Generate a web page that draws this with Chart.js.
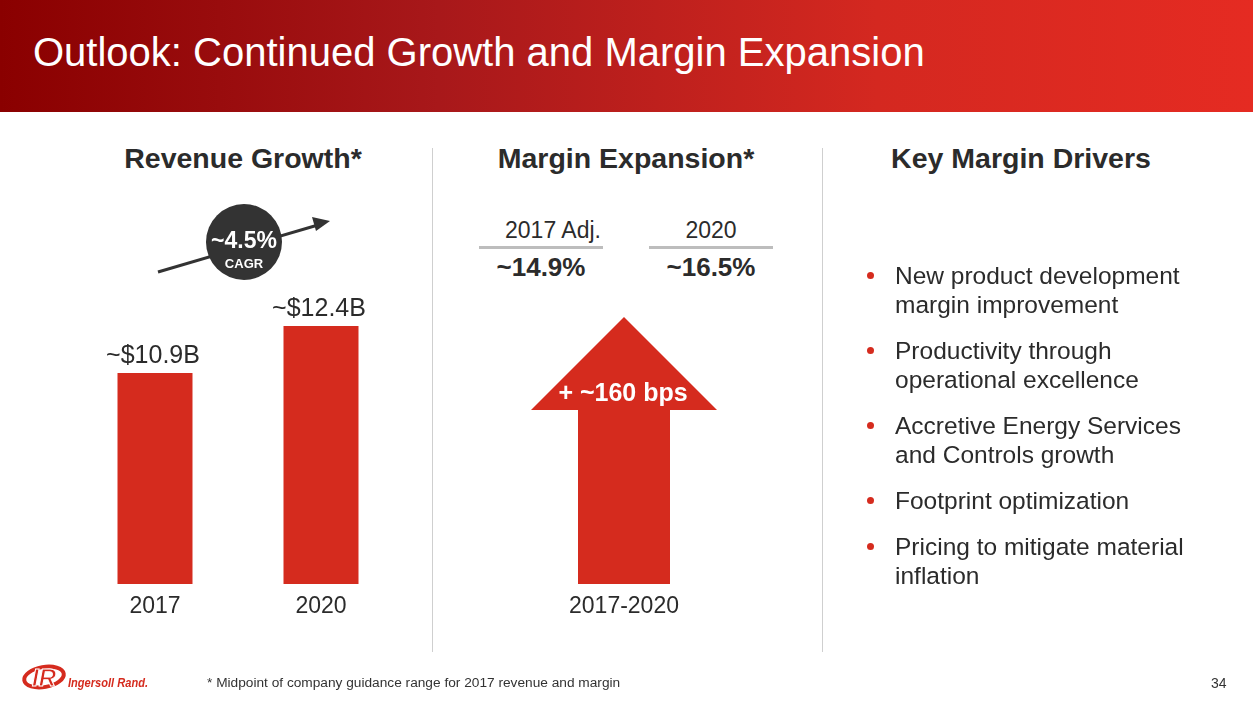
<!DOCTYPE html>
<html>
<head>
<meta charset="utf-8">
<script src="https://cdn.jsdelivr.net/npm/chart.js@4.4.1/dist/chart.umd.min.js"></script>
<style>
    html, body { margin: 0; padding: 0; }
    body {
        width: 1253px; height: 705px; position: relative; overflow: hidden;
        background: #fff; font-family: "Liberation Sans", Arial, sans-serif; color: #333;
    }
    .abs { position: absolute; white-space: nowrap; }
    #header {
        position: absolute; left: 0; top: 0; width: 1253px; height: 112px;
        background: linear-gradient(to right, #8a0000 0%, #a8181a 35%, #d42820 70%, #e52b22 100%);
    }
    #title { left: 33px; top: 30px; font-size: 40px; color: #fff; }
    .section { top: 142px; font-size: 28.5px; font-weight: bold; color: #2b2b2b; transform: translateX(-50%); }
    .divider { position: absolute; top: 148px; width: 1px; height: 504px; background: #cfcfcf; }
    .mhead { top: 217px; font-size: 23px; transform: translateX(-50%); color: #2b2b2b; }
    .mline { position: absolute; top: 246px; height: 3px; background: #bdbdbd; }
    .mval { top: 252px; font-size: 26px; font-weight: bold; transform: translateX(-50%); color: #2b2b2b; }
    canvas { position: absolute; }
    #bullets { position: absolute; left: 895px; top: 261px; width: 340px; font-size: 24.5px; line-height: 29px; color: #2b2b2b; }
    #bullets div { position: relative; margin-bottom: 17px; white-space: nowrap; }
    #bullets div::before {
        content: ""; position: absolute; left: -28px; top: 11px;
        width: 7px; height: 7px; border-radius: 50%; background: #d52b1e;
    }
    #foot { left: 207px; top: 675px; font-size: 13.7px; color: #333; }
    #page { left: 1211px; top: 675px; font-size: 14px; color: #333; }
</style>
</head>
<body>
<div id="header"></div>
<div id="title" class="abs">Outlook: Continued Growth and Margin Expansion</div>

<div class="abs section" style="left:243px">Revenue Growth*</div>
<div class="abs section" style="left:626px">Margin Expansion*</div>
<div class="abs section" style="left:1021px">Key Margin Drivers</div>

<div class="divider" style="left:432px"></div>
<div class="divider" style="left:822px"></div>

<div class="abs mhead" style="left:553px">2017 Adj.</div>
<div class="abs mhead" style="left:711px">2020</div>
<div class="mline" style="left:479px;width:124px"></div>
<div class="mline" style="left:649px;width:124px"></div>
<div class="abs mval" style="left:541px">~14.9%</div>
<div class="abs mval" style="left:711px">~16.5%</div>

<canvas id="revenue" width="360" height="350" style="left:60px;top:280px"></canvas>
<canvas id="margin" width="370" height="350" style="left:440px;top:280px"></canvas>

<svg class="abs" style="left:0;top:0" width="1253" height="705">
    <line x1="158" y1="272" x2="318" y2="225" stroke="#333" stroke-width="3"/>
    <polygon points="330,221 312,217 316,231" fill="#333"/>
    <circle cx="244" cy="242" r="38" fill="#333"/>
    <text x="244" y="248" text-anchor="middle" fill="#fff" font-family="Liberation Sans, Arial" font-weight="bold" font-size="23">~4.5%</text>
    <text x="244" y="268" text-anchor="middle" fill="#fff" font-family="Liberation Sans, Arial" font-weight="bold" font-size="13">CAGR</text>
    <!-- logo -->
    <g transform="translate(22,665)">
        <ellipse cx="22" cy="12" rx="20" ry="10" fill="none" stroke="#d52b1e" stroke-width="4" transform="rotate(-10 22 12)"/>
        <text x="22" y="21" text-anchor="middle" fill="#d52b1e" stroke="#fff" stroke-width="1" font-family="Liberation Sans, Arial" font-weight="bold" font-style="italic" font-size="24">IR</text>
        <text x="46" y="22" fill="#d52b1e" font-family="Liberation Sans, Arial" font-weight="bold" font-style="italic" font-size="13" textLength="80" lengthAdjust="spacingAndGlyphs">Ingersoll Rand.</text>
    </g>
</svg>

<div id="bullets">
    <div>New product development<br>margin improvement</div>
    <div>Productivity through<br>operational excellence</div>
    <div>Accretive Energy Services<br>and Controls growth</div>
    <div>Footprint optimization</div>
    <div>Pricing to mitigate material<br>inflation</div>
</div>

<div id="foot" class="abs">* Midpoint of company guidance range for 2017 revenue and margin</div>
<div id="page" class="abs">34</div>

<script>
const revenueYears = ['2017', '2020'];
const revenueValues = [10.9, 12.4];          // $B
const revenueLabels = ['~$10.9B', '~$12.4B'];

const marginPeriods = ['2017-2020'];
const marginExpansion = [160];               // bps

const RED = '#d52b1e';

// draws category names under the bars and value labels above them
const labelPlugin = {
    id: 'labels',
    afterDatasetsDraw(chart, args, opts) {
        const ctx = chart.ctx;
        const meta = chart.getDatasetMeta(0);
        const x = chart.scales.x;
        ctx.save();
        ctx.textAlign = 'center';
        ctx.textBaseline = 'alphabetic';
        ctx.fillStyle = '#2b2b2b';
        ctx.font = '23px "Liberation Sans", Arial, sans-serif';
        chart.data.labels.forEach((l, i) => {
            ctx.fillText(l, x.getPixelForValue(i), chart.chartArea.bottom + 29);
        });
        if (opts.values) {
            ctx.font = '25px "Liberation Sans", Arial, sans-serif';
            meta.data.forEach((bar, i) => {
                ctx.fillText(opts.values[i], bar.x - 2, bar.y - 10);
            });
        }
        ctx.restore();
    }
};

// turns the single bar into an up arrow
const arrowPlugin = {
    id: 'arrowHead',
    afterDatasetsDraw(chart, args, opts) {
        if (!opts.text) return;
        const ctx = chart.ctx;
        const bar = chart.getDatasetMeta(0).data[0];
        ctx.save();
        ctx.fillStyle = RED;
        ctx.beginPath();
        ctx.moveTo(bar.x - 93, bar.y + 1);
        ctx.lineTo(bar.x, bar.y - 92);
        ctx.lineTo(bar.x + 93, bar.y + 1);
        ctx.closePath();
        ctx.fill();
        ctx.fillStyle = '#fff';
        ctx.font = 'bold 25px "Liberation Sans", Arial, sans-serif';
        ctx.textAlign = 'center';
        ctx.textBaseline = 'alphabetic';
        ctx.fillText(opts.text, bar.x - 1, bar.y - 8);
        ctx.restore();
    }
};

const hiddenScales = (min, max) => ({
    x: { display: false },
    y: { display: false, min: min, max: max },
});

new Chart(document.getElementById('revenue'), {
    type: 'bar',
    data: {
        labels: revenueYears,
        datasets: [{
            data: revenueValues,
            backgroundColor: RED,
            barPercentage: 0.9,
            categoryPercentage: 0.502,
        }],
    },
    options: {
        responsive: false,
        animation: false,
        layout: { padding: { left: 12, right: 16, top: 0, bottom: 46 } },
        scales: hiddenScales(4.17, 13.87),
        plugins: {
            legend: { display: false },
            tooltip: { enabled: false },
            labels: { values: revenueLabels },
        },
    },
    plugins: [labelPlugin],
});

new Chart(document.getElementById('margin'), {
    type: 'bar',
    data: {
        labels: marginPeriods,
        datasets: [{
            data: marginExpansion,
            backgroundColor: RED,
            barPercentage: 1,
            categoryPercentage: 0.25,
        }],
    },
    options: {
        responsive: false,
        animation: false,
        layout: { padding: { left: 0, right: 2, top: 0, bottom: 46 } },
        scales: hiddenScales(0, 277.9),
        plugins: {
            legend: { display: false },
            tooltip: { enabled: false },
            labels: {},
            arrowHead: { text: '+ ~160 bps' },
        },
    },
    plugins: [arrowPlugin, labelPlugin],
});
</script>
</body>
</html>
